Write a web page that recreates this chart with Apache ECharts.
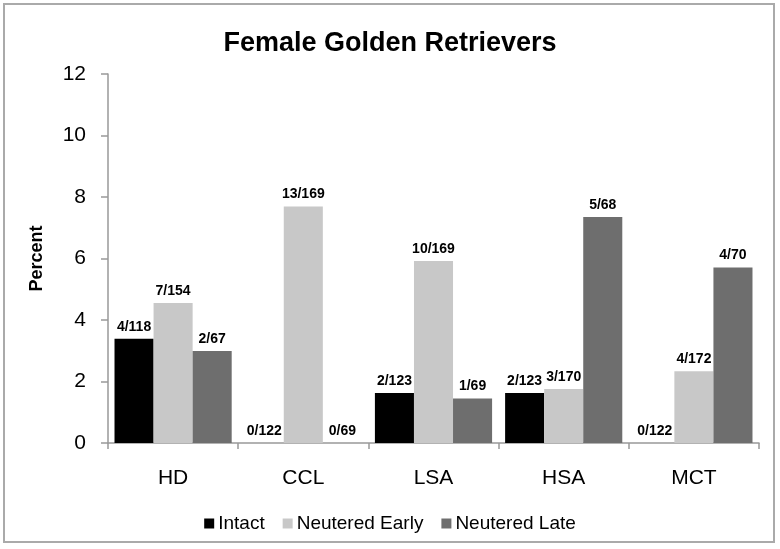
<!DOCTYPE html>
<html>
<head>
<meta charset="utf-8">
<script src="https://cdn.jsdelivr.net/npm/echarts@6/dist/echarts.min.js"></script>
<style>
  html, body { margin: 0; padding: 0; background: #fff; }
  #main { width: 780px; height: 549px; }
</style>
</head>
<body>
<div id="main"></div>
<script>
// 类别与数据
var categories = ['HD', 'CCL', 'LSA', 'HSA', 'MCT'];
var seriesNames = ['Intact', 'Neutered Early', 'Neutered Late'];
// 百分比
var intactVals = [3.39, 0, 1.63, 1.63, 0];
var earlyVals = [4.55, 7.69, 5.92, 1.76, 2.33];
var lateVals = [2.99, 0, 1.45, 7.35, 5.71];
// 柱顶标签
var intactLabels = ['4/118', '0/122', '2/123', '2/123', '0/122'];
var earlyLabels = ['7/154', '13/169', '10/169', '3/170', '4/172'];
var lateLabels = ['2/67', '0/69', '1/69', '5/68', '4/70'];
var colors = ['#000000', '#c8c8c8', '#6e6e6e'];

var chart = echarts.init(document.getElementById('main'));

function makeSeries(name, vals, labels, color) {
    return {
        name: name,
        type: 'bar',
        barGap: '0%',
        barCategoryGap: '10%',
        data: vals,
        itemStyle: { color: color },
        label: {
            show: true,
            position: 'top',
            distance: 5,
            color: '#000',
            fontWeight: 'bold',
            fontSize: 14,
            fontFamily: 'Liberation Sans',
            formatter: function (p) { return labels[p.dataIndex]; }
        }
    };
}

var option = {
    backgroundColor: '#fff',
    animation: false,
    textStyle: { fontFamily: 'Liberation Sans' },
    title: {
        text: 'Female Golden Retrievers',
        left: 'center',
        top: 25,
        textStyle: { fontSize: 27, fontWeight: 'bold', color: '#000', fontFamily: 'Liberation Sans' }
    },
    legend: {
        data: seriesNames,
        bottom: 11,
        left: 'center',
        itemWidth: 10,
        itemHeight: 10,
        itemGap: 18,
        icon: 'rect',
        textStyle: { fontSize: 19, color: '#000', padding: [0, 0, 0, -1] }
    },
    grid: { left: 108, right: 21, top: 74, bottom: 106 },
    xAxis: {
        type: 'category',
        data: categories,
        axisLine: { lineStyle: { color: '#999', width: 1.5 } },
        axisTick: { show: true, length: 6, lineStyle: { color: '#999', width: 1.5 } },
        axisLabel: { fontSize: 21, color: '#000', margin: 25 }
    },
    yAxis: {
        type: 'value',
        min: 0,
        max: 12,
        interval: 2,
        name: 'Percent',
        nameLocation: 'middle',
        nameGap: 62,
        nameTextStyle: { fontSize: 18, fontWeight: 'bold', color: '#000' },
        splitLine: { show: false },
        axisLine: { show: true, lineStyle: { color: '#999', width: 1.5 } },
        axisTick: { show: true, inside: false, length: 7, lineStyle: { color: '#999', width: 1.5 } },
        axisLabel: { fontSize: 21, color: '#000', margin: 22 }
    },
    graphic: [{
        type: 'rect',
        shape: { x: 4, y: 4, width: 770, height: 538 },
        style: { fill: null, stroke: '#aaa', lineWidth: 2 },
        silent: true
    }],
    series: [
        makeSeries(seriesNames[0], intactVals, intactLabels, colors[0]),
        makeSeries(seriesNames[1], earlyVals, earlyLabels, colors[1]),
        makeSeries(seriesNames[2], lateVals, lateLabels, colors[2])
    ]
};

chart.setOption(option);
</script>
</body>
</html>
